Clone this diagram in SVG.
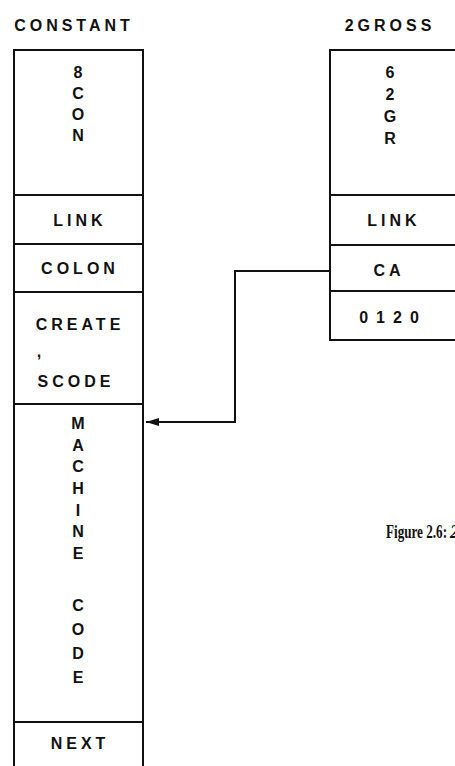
<svg xmlns="http://www.w3.org/2000/svg" width="455" height="766" viewBox="0 0 455 766">
<defs>
<style>
.box{fill:none;stroke:#111;stroke-width:2}
.sep{stroke:#111;stroke-width:2}
.t{font-family:"Liberation Sans",Arial,sans-serif;font-weight:bold;font-size:16px;fill:#111;text-anchor:middle;letter-spacing:4px}
.v{font-family:"Liberation Sans",Arial,sans-serif;font-weight:bold;font-size:16px;fill:#111;text-anchor:middle}
.conn{fill:none;stroke:#111;stroke-width:2}
.cap{font-family:"Liberation Serif","Times New Roman",serif;font-size:18px;font-weight:600;fill:#111}
</style>
<marker id="ah" markerWidth="14" markerHeight="10" refX="13" refY="5" orient="auto" markerUnits="userSpaceOnUse">
<path d="M0,1 L13,5 L0,9 Z" fill="#111"/>
</marker>
</defs>
<rect width="455" height="766" fill="#fff"/>
<g id="constant">
<text class="t" x="74" y="31">CONSTANT</text>
<path class="box" d="M14,770 V50 H143 V770"/>
<line class="sep" x1="14" y1="195" x2="143" y2="195"/>
<line class="sep" x1="14" y1="244" x2="143" y2="244"/>
<line class="sep" x1="14" y1="292" x2="143" y2="292"/>
<line class="sep" x1="14" y1="404" x2="143" y2="404"/>
<line class="sep" x1="14" y1="722" x2="143" y2="722"/>
<text class="v" x="78" y="78">8</text>
<text class="v" x="78" y="99">C</text>
<text class="v" x="78" y="120">O</text>
<text class="v" x="78" y="141">N</text>
<text class="t" x="80" y="226">LINK</text>
<text class="t" x="80" y="274">COLON</text>
<text class="t" x="80" y="330">CREATE</text>
<text class="v" x="39" y="357">,</text>
<text class="t" x="76" y="387">SCODE</text>
<text class="v" x="78" y="429">M</text>
<text class="v" x="78" y="451">A</text>
<text class="v" x="78" y="472">C</text>
<text class="v" x="78" y="494">H</text>
<text class="v" x="78" y="516">I</text>
<text class="v" x="78" y="537">N</text>
<text class="v" x="78" y="559">E</text>
<text class="v" x="78" y="611">C</text>
<text class="v" x="78" y="635">O</text>
<text class="v" x="78" y="659">D</text>
<text class="v" x="78" y="683">E</text>
<text class="t" x="80" y="749">NEXT</text>
</g>
<g id="twogross">
<text class="t" x="390" y="31">2GROSS</text>
<path class="box" d="M460,50 H330 V340 H460"/>
<line class="sep" x1="330" y1="195" x2="460" y2="195"/>
<line class="sep" x1="330" y1="245" x2="460" y2="245"/>
<line class="sep" x1="330" y1="291" x2="460" y2="291"/>
<text class="v" x="390" y="78">6</text>
<text class="v" x="390" y="100">2</text>
<text class="v" x="390" y="122">G</text>
<text class="v" x="390" y="144">R</text>
<text class="t" x="394" y="226">LINK</text>
<text class="t" x="389" y="276">CA</text>
<text class="t" x="393" y="323" style="letter-spacing:8px">0120</text>
</g>
<g id="connectors">
<path class="conn" d="M330,271 H235 V422 H146" marker-end="url(#ah)"/>
</g>
<g id="caption">
<text class="cap" x="386" y="538" textLength="61" lengthAdjust="spacingAndGlyphs">Figure 2.6:</text>
<text class="cap" x="450" y="538" font-style="italic" font-weight="normal">2</text>
</g>
</svg>
